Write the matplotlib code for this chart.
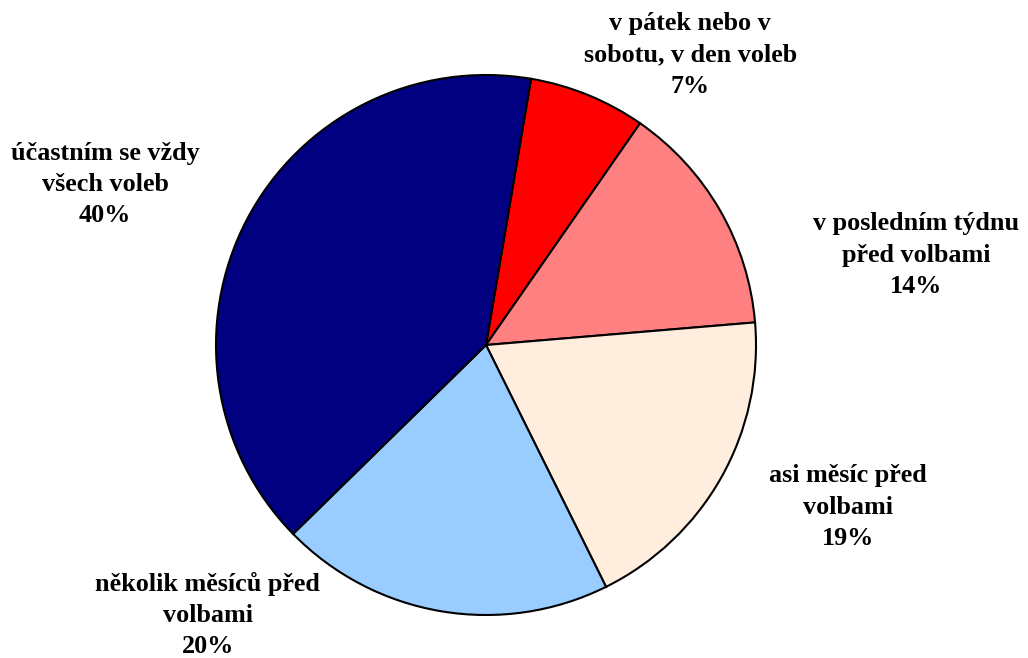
import matplotlib.pyplot as plt

# data (clockwise from the red slice)
labels = ['v pátek nebo v\nsobotu, v den voleb', 'v posledním týdnu\npřed volbami',
          'asi měsíc před\nvolbami', 'několik měsíců před\nvolbami', 'účastním se vždy\nvšech voleb']
values = [7, 14, 19, 20, 40]
colors = ['#FF0000', '#FF8080', '#FFEEDD', '#99CCFF', '#000080']
# label centres in pie units (radius = 1)
label_pos = [(0.756, 1.074), (1.593, 0.333), (1.341, -0.6), (-1.03, -1.0), (-1.411, 0.593)]

plt.rcParams['font.family'] = ['Liberation Serif', 'DejaVu Serif']

fig = plt.figure(figsize=(10.28, 6.58), dpi=100)
# pie centre at (486, 345) px, radius 270 px
ax = fig.add_axes([(486 - 270) / 1028, (658 - 345 - 270) / 658, 540 / 1028, 540 / 658])
ax.pie(values, colors=colors, startangle=80.4, counterclock=False,
       wedgeprops=dict(edgecolor='black', linewidth=1.5))
ax.set_xlim(-1, 1)
ax.set_ylim(-1, 1)
ax.set_aspect('equal')

for lab, v, (x, y) in zip(labels, values, label_pos):
    ax.text(x, y, f'{lab}\n{v}%', ha='center', va='center', fontsize=18.8,
            fontweight='bold', linespacing=1.45, clip_on=False)

plt.savefig('out.png', dpi=100)
